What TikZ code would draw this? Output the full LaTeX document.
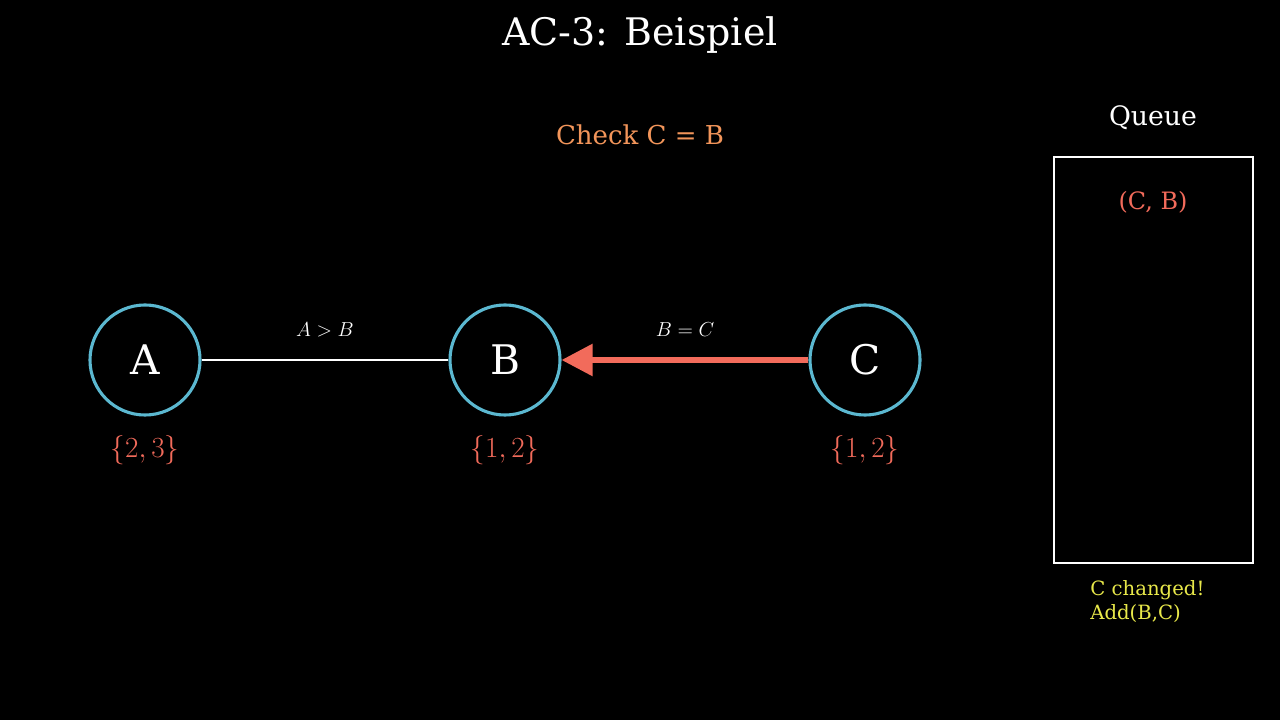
\documentclass[tikz,border=0pt]{standalone}
\usepackage{fontspec}
\setmainfont{DejaVu Serif}
\usetikzlibrary{arrows.meta}
\definecolor{cblue}{HTML}{5BB8D0}
\definecolor{cred}{HTML}{F26B5B}
\definecolor{corange}{HTML}{F2955A}
\definecolor{cyel}{HTML}{E8E84A}
\tikzset{
  var/.style={circle,draw=cblue,line width=2.2pt,minimum size=2.75cm,inner sep=0pt,text=white,font=\fontsize{29}{29}\selectfont},
  dom/.style={text=cred,font=\fontsize{22}{22}\selectfont},
  elab/.style={text=white,font=\fontsize{15}{15}\selectfont}
}
\begin{document}
\begin{tikzpicture}[x=0.025cm,y=-0.025cm]
\fill[black] (0,0) rectangle (1280,720);
\node[text=white,font=\fontsize{27}{27}\selectfont] (title) at (640,35) {AC-3: Beispiel};
\node[text=corange,font=\fontsize{18.5}{18.5}\selectfont] (check) at (640,135) {Check C = B};
\node[var] (A) at (145,360) {A};
\node[var] (B) at (505,360) {B};
\node[var] (C) at (865,360) {C};
\draw[white,line width=2pt] (A) -- (B);
\draw[cred,line width=4pt,-{Triangle[length=22pt,width=22pt]}] (C) -- (B);
\node[elab] (l1) at (325,330) {$A>B$};
\node[elab] (l2) at (685,330) {$B=C$};
\node[dom] (dA) at (145,450) {$\{2,3\}$};
\node[dom] (dB) at (505,450) {$\{1,2\}$};
\node[dom] (dC) at (865,450) {$\{1,2\}$};
\node[text=white,font=\fontsize{19}{19}\selectfont] (q) at (1153,118) {Queue};
\draw[white,line width=2pt] (1054,157) rectangle (1253,563);
\node[text=cred,font=\fontsize{17}{17}\selectfont] (cb) at (1153,202) {(C, B)};
\node[text=cyel,font=\fontsize{14}{17}\selectfont,align=left,anchor=north west,inner sep=0pt] (msg) at (1090,580) {C changed!\\Add(B,C)};
\end{tikzpicture}
\end{document}
